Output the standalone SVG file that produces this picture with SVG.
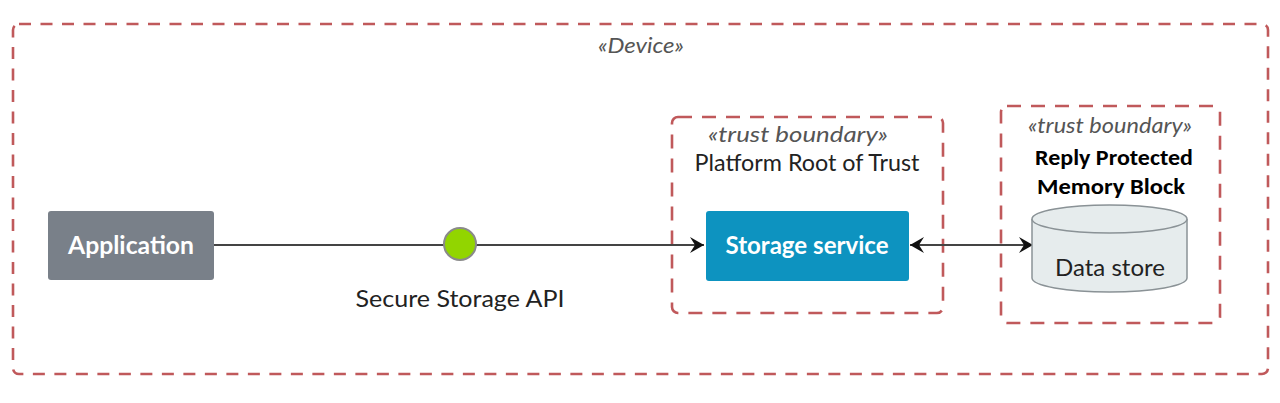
<svg xmlns="http://www.w3.org/2000/svg" width="1280" height="403" viewBox="0 0 1280 403">
<defs>
<style>
.bound{fill:none;stroke:#c0595b;stroke-width:2.6;}
.outer{stroke-dasharray:12 9.5;}
.inner{stroke-dasharray:14 10;}
.stereo{font-family:Lato,"Open Sans",sans-serif;font-style:italic;font-size:21px;fill:#555;text-anchor:middle;}
.lbl{font-family:Lato,"Open Sans",sans-serif;font-size:23px;fill:#222;text-anchor:middle;}
.nodelbl{font-family:Lato,"Open Sans",sans-serif;font-weight:bold;font-size:24px;fill:#fff;text-anchor:middle;}
.bold{font-family:Carlito,"Open Sans",sans-serif;font-weight:bold;font-size:22px;fill:#000;text-anchor:middle;}
.conn{stroke:#444;stroke-width:2;fill:none;}
</style>
<marker id="chev" viewBox="0 0 16 18" refX="15" refY="9" markerWidth="16" markerHeight="18" markerUnits="userSpaceOnUse" orient="auto-start-reverse">
<path d="M1,1 L15,9 L1,17 L6,9 Z" fill="#111"/>
</marker>
</defs>
<rect width="1280" height="403" fill="#fff"/>
<g id="device">
<rect class="bound outer" x="13" y="24" width="1255" height="350" rx="6"/>
<text class="stereo" x="641" y="53" textLength="86" lengthAdjust="spacingAndGlyphs">«Device»</text>
</g>
<g id="platform-root-of-trust">
<rect class="bound inner" x="672" y="117" width="271" height="196" rx="6"/>
<text class="stereo" x="798" y="142" textLength="180" lengthAdjust="spacingAndGlyphs">«trust boundary»</text>
<text class="lbl" x="807" y="171" textLength="225" lengthAdjust="spacingAndGlyphs">Platform Root of Trust</text>
</g>
<g id="rpmb">
<rect class="bound inner" x="1001" y="106" width="219" height="217" rx="6"/>
<text class="stereo" x="1110" y="133" textLength="164" lengthAdjust="spacingAndGlyphs">«trust boundary»</text>
<text class="bold" x="1114" y="165" textLength="158" lengthAdjust="spacingAndGlyphs">Reply Protected</text>
<text class="bold" x="1111" y="194" textLength="148" lengthAdjust="spacingAndGlyphs">Memory Block</text>
</g>
<g id="connectors">
<line class="conn" x1="213" y1="245" x2="704" y2="245" marker-end="url(#chev)"/>
<line class="conn" x1="910" y1="245" x2="1033" y2="245" marker-start="url(#chev)" marker-end="url(#chev)"/>
</g>
<g id="application">
<rect x="48" y="211" width="166" height="69" rx="3" fill="#798089"/>
<text class="nodelbl" x="131" y="254" textLength="126" lengthAdjust="spacingAndGlyphs">Application</text>
</g>
<g id="secure-storage-api">
<circle cx="460" cy="244" r="16" fill="#92d500" stroke="#8a8a8a" stroke-width="2"/>
<text class="lbl" x="460" y="307" textLength="209" lengthAdjust="spacingAndGlyphs">Secure Storage API</text>
</g>
<g id="storage-service">
<rect x="706" y="211" width="203" height="70" rx="3" fill="#0d93c0"/>
<text class="nodelbl" x="807" y="254" textLength="163" lengthAdjust="spacingAndGlyphs">Storage service</text>
</g>
<g id="data-store">
<path d="M1032,219 L1032,278 A77.5,14 0 0 0 1187,278 L1187,219" fill="#e6eced" stroke="#8a9296" stroke-width="1.5"/>
<ellipse cx="1109.5" cy="219" rx="77.5" ry="14" fill="#e6eced" stroke="#8a9296" stroke-width="1.5"/>
<text class="lbl" x="1110" y="276" fill="#333" textLength="110" lengthAdjust="spacingAndGlyphs">Data store</text>
</g>
</svg>
